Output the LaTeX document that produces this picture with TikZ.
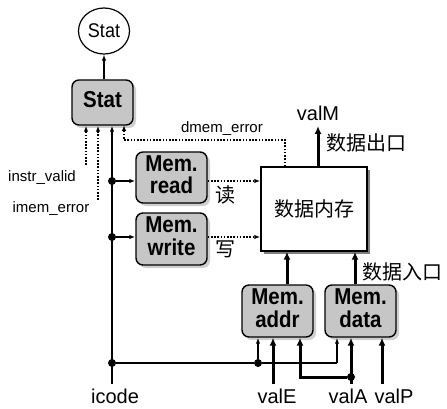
\documentclass[tikz,border=0pt]{standalone}
\usepackage{fontspec}
\usepackage{graphicx}
\setmainfont{Liberation Sans}
\newfontfamily\cjk{Noto Sans CJK SC}
\usetikzlibrary{shapes.geometric,shadows,arrows.meta,calc}
\newcommand{\bxt}[1]{\scalebox{1}[1.12]{\begin{tabular}{@{}c@{}}#1\end{tabular}}}
\begin{document}
\begin{tikzpicture}[x=1pt,y=-1pt,
 ctl/.style={draw,line width=1.4pt,rounded corners=7pt,fill=gray!45,minimum width=71pt,minimum height=52pt,align=center,font=\bfseries\fontsize{20.5}{18}\selectfont,drop shadow={shadow xshift=3pt,shadow yshift=-3pt,fill=gray!75},inner sep=0pt},
 tip/.style={-{Latex[length=6pt,width=4.5pt]}},
 thinln/.style={line width=1.2pt,tip},
 bus/.style={line width=3pt,-{Latex[length=8pt,width=7pt]}},
 sig/.style={line width=1.7pt,dash pattern=on 1.6pt off 1.6pt,tip},
 lbl/.style={font=\fontsize{15}{17}\selectfont,inner sep=0pt},
 big/.style={font=\fontsize{20}{22}\selectfont,inner sep=0pt},
 zh/.style={font=\cjk\fontsize{20}{22}\selectfont,inner sep=0pt},
 dot/.style={circle,fill,inner sep=0pt,minimum size=8pt}]
\useasboundingbox (0,0) rectangle (447,409);

% nodes
\node[draw,ellipse,line width=1.2pt,minimum width=51pt,minimum height=46pt,inner sep=0pt,font=\fontsize{18}{21}\selectfont] (statE) at (104,31) {\scalebox{1}[1.1]{Stat}};
\node[ctl,minimum width=61pt,minimum height=45pt] (statB) at (102.5,102.5) {\bxt{Stat}};
\node[ctl,minimum height=51pt] (read) at (171.5,177.5) {\bxt{Mem.\\read}};
\node[ctl] (write) at (171.5,239) {\bxt{Mem.\\write}};
\node[draw,fill=white,line width=1.4pt,minimum width=106pt,minimum height=84pt,drop shadow={shadow xshift=3pt,shadow yshift=-3pt,fill=black},zh] (dmem) at (314,209) {数据内存};
\node[ctl] (addr) at (277.5,311) {\bxt{Mem.\\addr}};
\node[ctl] (data) at (360.5,311) {\bxt{Mem.\\data}};

% labels
\node[lbl] (liv) at (42,178) {instr\_valid};
\node[lbl] (lim) at (51,209) {imem\_error};
\node[lbl] (lde) at (222,129) {dmem\_error};
\node[big] (lvalM) at (318,113) {valM};
\node[zh] (lout) at (366,143) {数据出口};
\node[zh] (lin) at (402,272) {数据入口};
\node[zh] (lrd) at (225,195) {读};
\node[zh] (lwr) at (225,249) {写};
\node[big] (licode) at (115,396.5) {icode};
\node[big] (lvalE) at (277,396.5) {valE};
\node[big] (lvalA) at (348,396.5) {valA};
\node[big] (lvalP) at (394,396.5) {valP};

% coordinates
\coordinate (ic) at (112,384);
\coordinate (iv) at (86,165);
\coordinate (im) at (98,200);
\coordinate (vE) at (273,384);
\coordinate (vA) at (351,384);
\coordinate (vP) at (382,384);
\node[dot] (j1) at (112,181) {};
\node[dot] (j2) at (112,237) {};
\node[dot] (j3) at (112,363) {};
\node[dot] (j4) at (258,363) {};
\node[dot] (j5) at (351,377) {};

% connectors
\draw[thinln] (statB.north -| statE.south) -- (statE.south);
\draw[thinln] (ic) -- (ic |- statB.south);
\draw[sig] (iv) -- (iv |- statB.south);
\draw[sig] (im) -- (im |- statB.south);
\draw[sig] ([xshift=-29pt]dmem.north) |- (124,140) -- (124,125);
\draw[thinln] (j1) -- (j1 -| read.west);
\draw[thinln] (j2) -- (j2 -| write.west);
\draw[sig] (read.east |- j1) -- (dmem.west |- j1);
\draw[sig] (write.east |- j2) -- (dmem.west |- j2);
\draw[bus] (dmem.north -| lvalM) -- (318,126);
\draw[bus] (addr.north -| 287,0) -- (dmem.south -| 287,0);
\draw[bus] (data.north -| 355,0) -- (dmem.south -| 355,0);
\draw[line width=1.2pt] (j3) -- (j4);
\draw[thinln] (j4) -- (j4 |- addr.south);
\draw[line width=1.2pt] (j4) -- (337,363);
\draw[thinln] (337,363) -- (data.south -| 337,0);
\draw[bus] (vE) -- (vE |- addr.south);
\draw[bus] (vA) -- (vA |- data.south);
\draw[bus] (vP) -- (vP |- data.south);
\draw[bus] (j5) -| (addr.south -| 300,0);
\end{tikzpicture}
\end{document}
